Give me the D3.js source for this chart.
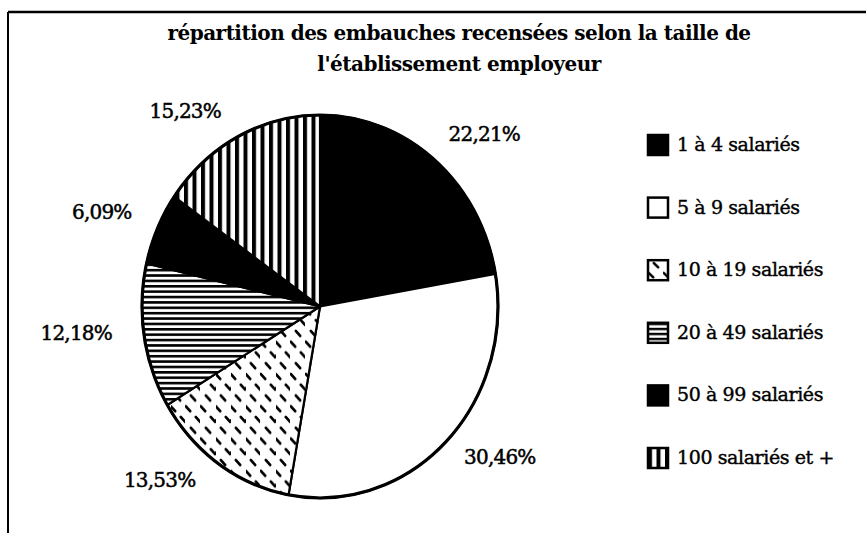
<!DOCTYPE html>
<html>
<head>
<meta charset="utf-8">
<script src="https://cdn.jsdelivr.net/npm/d3@7"></script>
<style>
  html, body { margin: 0; padding: 0; background: #fff; }
  svg { display: block; }
</style>
</head>
<body>
<svg id="sv" width="866" height="533"></svg>
<script>
const categories = ["1 à 4 salariés", "5 à 9 salariés", "10 à 19 salariés", "20 à 49 salariés", "50 à 99 salariés", "100 salariés et +"];
const shares = [22.21, 30.46, 13.53, 12.18, 6.09, 15.23];
const shareLabels = ["22,21%", "30,46%", "13,53%", "12,18%", "6,09%", "15,23%"];
const titleLines = ["répartition des embauches recensées selon la taille de", "l'établissement employeur"];

const W = 866, H = 533;
const svg = d3.select("#sv");
const font = "'DejaVu Serif', 'Liberation Serif', serif";

const defs = svg.append("defs");
// 10 à 19 : tirets obliques
const pDash = defs.append("pattern").attr("id", "pDash").attr("patternUnits", "userSpaceOnUse")
  .attr("width", 15).attr("height", 30);
pDash.append("rect").attr("width", 15).attr("height", 30).attr("fill", "#fff");
[[3, 5], [13, 15], [8, 25]].forEach(([x, y]) => pDash.append("line")
  .attr("x1", x - 2.2).attr("y1", y - 2.2).attr("x2", x + 2.2).attr("y2", y + 2.2)
  .attr("stroke", "#000").attr("stroke-width", 2.6).attr("stroke-linecap", "round"));
// 20 à 49 : lignes horizontales
const pHor = defs.append("pattern").attr("id", "pHor").attr("patternUnits", "userSpaceOnUse")
  .attr("width", 8).attr("height", 5);
pHor.append("rect").attr("width", 8).attr("height", 5).attr("fill", "#fff");
pHor.append("rect").attr("y", 0).attr("width", 8).attr("height", 2.4).attr("fill", "#000");
// 100 et + : lignes verticales
const pVer = defs.append("pattern").attr("id", "pVer").attr("patternUnits", "userSpaceOnUse")
  .attr("width", 8.5).attr("height", 8);
pVer.append("rect").attr("width", 8.5).attr("height", 8).attr("fill", "#fff");
pVer.append("rect").attr("x", 0).attr("width", 4).attr("height", 8).attr("fill", "#000");

const fills = ["#000", "#fff", "url(#pDash)", "url(#pHor)", "#000", "url(#pVer)"];

// cadre
svg.append("line").attr("x1", 8).attr("y1", 12).attr("x2", W).attr("y2", 12).attr("stroke", "#000").attr("stroke-width", 2.5);
svg.append("line").attr("x1", 8).attr("y1", 12).attr("x2", 8).attr("y2", H).attr("stroke", "#000").attr("stroke-width", 2);

// titre
svg.append("g").selectAll("text").data(titleLines).enter().append("text")
  .attr("x", 459).attr("y", (d, i) => 40 + i * 31)
  .attr("text-anchor", "middle").attr("font-family", font).attr("font-size", 20).attr("font-weight", "bold")
  .attr("letter-spacing", -0.5)
  .attr("fill", "#000").text(d => d);

// camembert (ellipse)
const cx = 320, cy = 306.5, rx = 178, ry = 191.5;
const pie = d3.pie().sort(null).value(d => d)(shares);
const arc = d3.arc().innerRadius(0).outerRadius(rx);
const pg = svg.append("g").attr("transform", `translate(${cx},${cy}) scale(1,${ry / rx})`);
pg.selectAll("path").data(pie).enter().append("path")
  .attr("d", arc).attr("fill", (d, i) => fills[i])
  .attr("stroke", "#000").attr("stroke-width", 2.2).attr("vector-effect", "non-scaling-stroke");
pg.append("ellipse").attr("rx", rx).attr("ry", rx).attr("fill", "none")
  .attr("stroke", "#000").attr("stroke-width", 3.2).attr("vector-effect", "non-scaling-stroke");

// étiquettes
const k = 1.25;
const nudge = [[21, 12], [23, -18], [-34, -22], [-24, -9], [-15, 4], [-32, 18]];
const mid = d => (d.startAngle + d.endAngle) / 2;
svg.append("g").selectAll("text").data(pie).enter().append("text")
  .attr("x", (d, i) => cx + Math.sin(mid(d)) * rx * k + nudge[i][0])
  .attr("y", (d, i) => cy - Math.cos(mid(d)) * ry * k + nudge[i][1])
  .attr("text-anchor", "middle").attr("dominant-baseline", "middle")
  .attr("font-family", font).attr("font-size", 20).attr("letter-spacing", -0.8)
  .attr("fill", "#000").attr("stroke", "#000").attr("stroke-width", 0.5)
  .text((d, i) => shareLabels[i]);

// légende
const ly = d3.scalePoint().domain(categories).range([145, 458]);
const lg = svg.append("g").selectAll("g").data(categories).enter().append("g")
  .attr("transform", d => `translate(648,${ly(d)})`);
lg.append("rect").attr("x", 0).attr("y", -10).attr("width", 20).attr("height", 20)
  .attr("fill", (d, i) => fills[i]).attr("stroke", "#000").attr("stroke-width", 2.5);
lg.append("text").attr("x", 29).attr("y", 1).attr("dominant-baseline", "middle")
  .attr("font-family", font).attr("font-size", 19).attr("letter-spacing", -0.4)
  .attr("fill", "#000").attr("stroke", "#000").attr("stroke-width", 0.4).text(d => d);
</script>
</body>
</html>
